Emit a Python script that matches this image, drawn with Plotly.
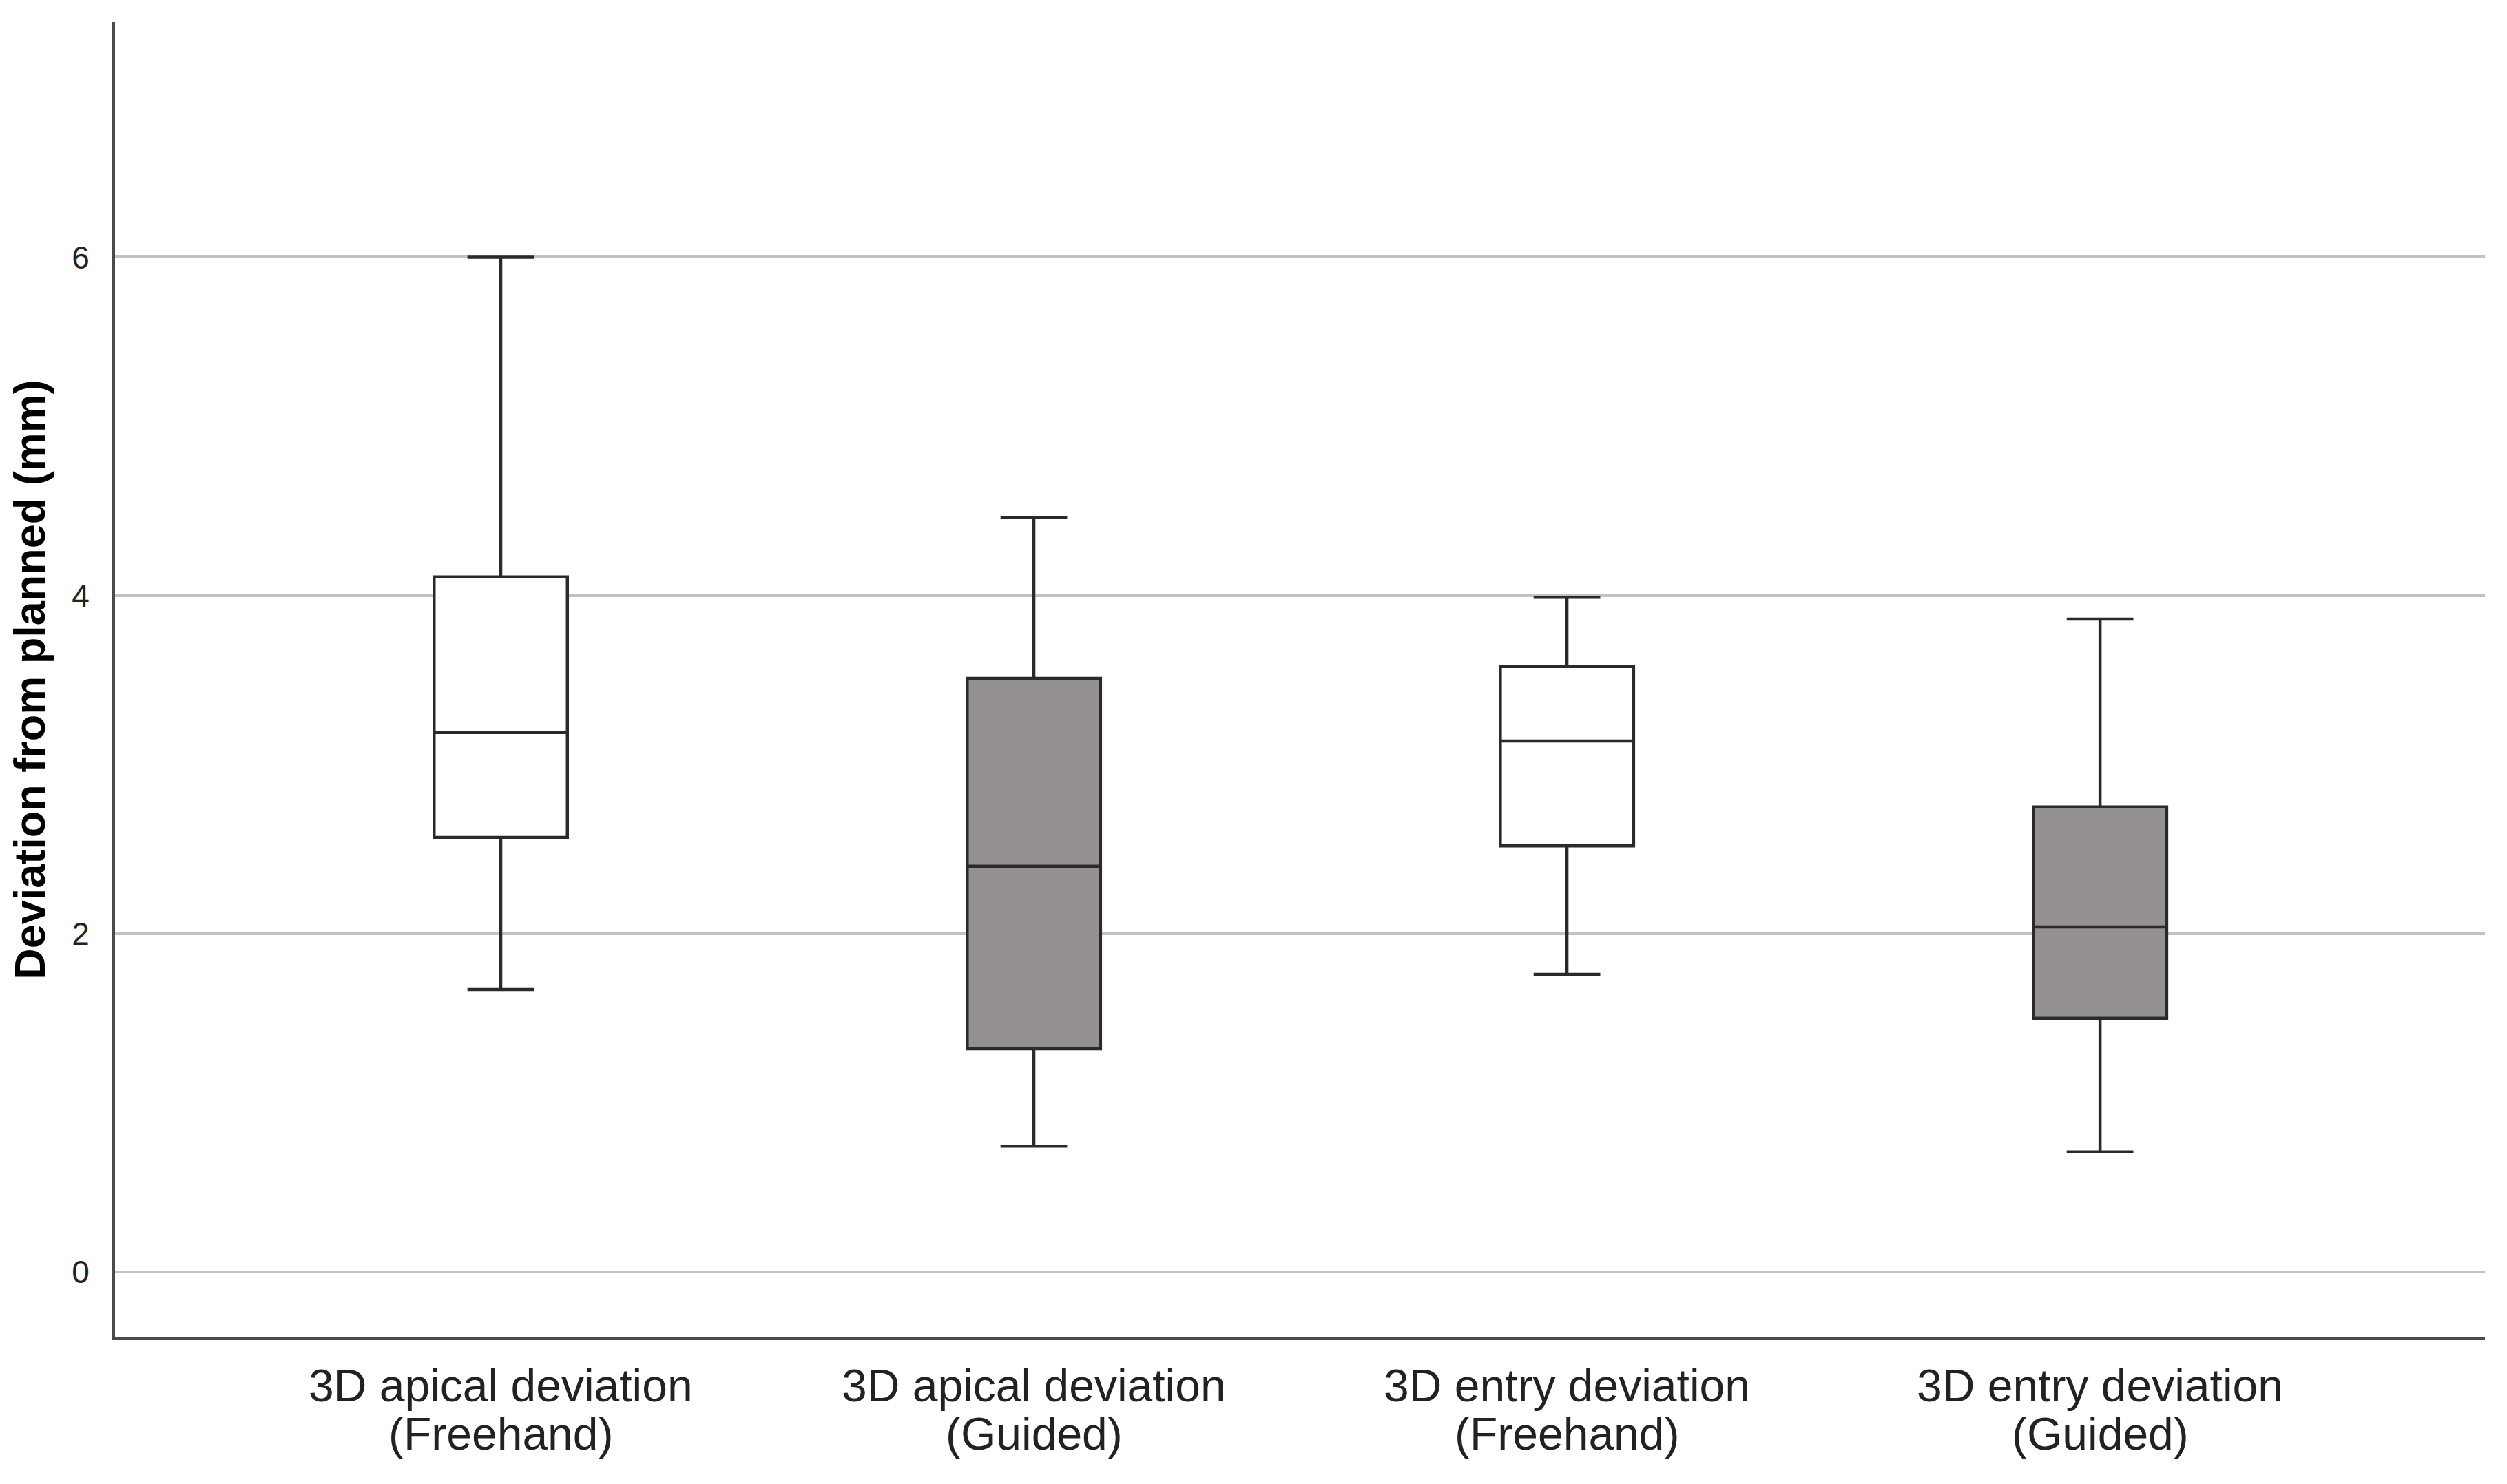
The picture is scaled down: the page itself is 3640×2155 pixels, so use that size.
import plotly.graph_objects as go

# Box plot summary values (mm)
groups = ["3D apical deviation<br>(Freehand)", "3D apical deviation<br>(Guided)",
          "3D entry deviation<br>(Freehand)", "3D entry deviation<br>(Guided)"]
positions = [0, 1, 2, 3]
lower = [1.67, 0.745, 1.76, 0.71]
q1 = [2.57, 1.32, 2.52, 1.50]
median = [3.19, 2.40, 3.14, 2.04]
q3 = [4.11, 3.51, 3.58, 2.75]
upper = [6.00, 4.46, 3.99, 3.86]
fills = ["#ffffff", "#959190", "#ffffff", "#959190"]

y_ticks = [0, 2, 4, 6]

fig = go.Figure()

for i in range(len(groups)):
    fig.add_trace(go.Box(
        x=[positions[i]],
        q1=[q1[i]],
        median=[median[i]],
        q3=[q3[i]],
        lowerfence=[lower[i]],
        upperfence=[upper[i]],
        width=0.25,
        whiskerwidth=0.5,
        fillcolor=fills[i],
        line=dict(color="#2a2a2a", width=4.5),
        showlegend=False,
        hoverinfo="skip"
    ))

# two-line category labels under the axis
for i, label in enumerate(groups):
    for j, part in enumerate(label.split("<br>")):
        fig.add_annotation(
            x=positions[i], y=0, xref="x", yref="paper",
            text=part, showarrow=False,
            yanchor="middle", yshift=-70 - 70 * j,
            font=dict(family="Liberation Sans", size=66, color="#222222")
        )

# page body adds an 8px offset, margins compensate for it
fig.update_layout(
    width=3640,
    height=2155,
    paper_bgcolor="white",
    plot_bgcolor="white",
    margin=dict(l=159, r=40, t=24, b=221),
    font=dict(family="Liberation Sans", color="#222222"),
)

fig.update_xaxes(
    range=[-0.7235, 3.722],
    showticklabels=False,
    ticks="",
    showgrid=False,
    zeroline=False,
    showline=True,
    linecolor="#4a4a4a",
    linewidth=4,
)

fig.update_yaxes(
    range=[-0.386, 7.39],
    tickvals=y_ticks,
    ticktext=[str(v) for v in y_ticks],
    tickfont=dict(family="Liberation Sans", size=46, color="#222222"),
    ticks="",
    ticklabelstandoff=24,
    showgrid=True,
    gridcolor="#c2c2c2",
    gridwidth=4,
    zeroline=False,
    showline=True,
    linecolor="#4a4a4a",
    linewidth=4,
    title=dict(
        text="Deviation from planned (mm)",
        font=dict(family="Liberation Sans", size=63, color="#000000", weight="bold"),
        standoff=26,
    ),
)

fig.write_html("out.html")
